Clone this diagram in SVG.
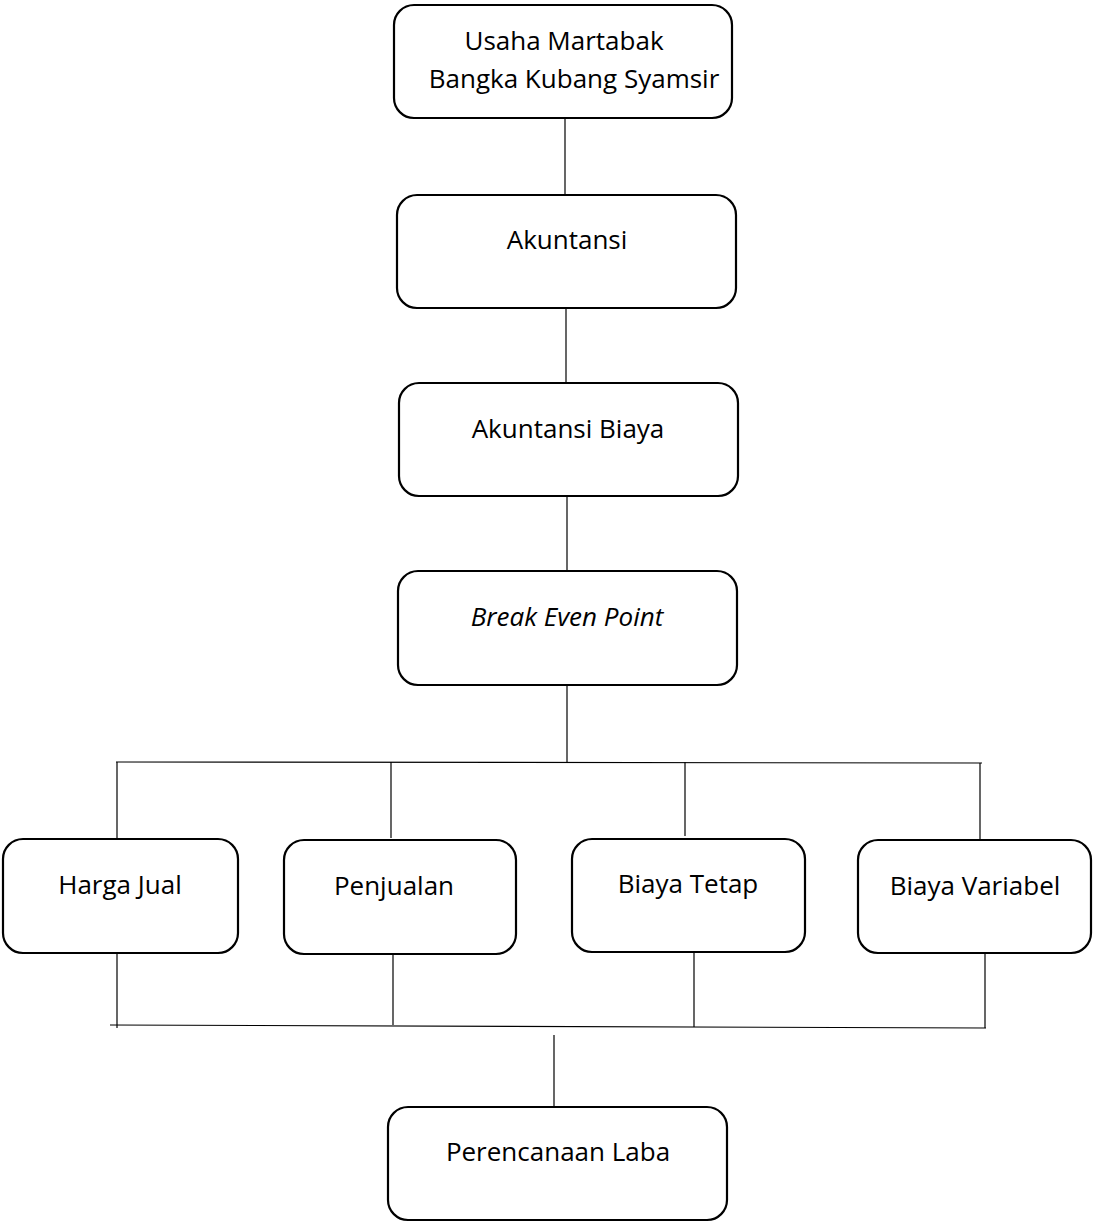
<svg xmlns="http://www.w3.org/2000/svg" width="1093" height="1222" viewBox="0 0 1093 1222">
<style>
.box{fill:#fff;stroke:#000;stroke-width:2.2}
.t{font-family:"Open Sans",Lato,"Liberation Sans",sans-serif;font-size:26px;fill:#000;text-anchor:middle}
.c line{stroke:#000;stroke-width:1.2}
</style>
<rect width="1093" height="1222" fill="#fff"/>
<g class="c" id="connectors">
<line x1="565" y1="119" x2="565" y2="195"/>
<line x1="566" y1="308" x2="566" y2="383"/>
<line x1="567" y1="496" x2="567" y2="571"/>
<line x1="567" y1="685" x2="567" y2="763"/>
<line x1="116" y1="762" x2="982" y2="763"/>
<line x1="117" y1="762" x2="117" y2="838"/>
<line x1="391" y1="762" x2="391" y2="838"/>
<line x1="685" y1="762" x2="685" y2="836"/>
<line x1="980" y1="763" x2="980" y2="839"/>
<line x1="117" y1="953" x2="117" y2="1028"/>
<line x1="393" y1="948" x2="393" y2="1025"/>
<line x1="694" y1="952" x2="694" y2="1027"/>
<line x1="985" y1="954" x2="985" y2="1028"/>
<line x1="110" y1="1025" x2="986" y2="1028"/>
<line x1="554" y1="1035" x2="554" y2="1107"/>
</g>
<g id="n1"><rect class="box" x="394" y="5" width="338" height="113" rx="20"/><text class="t" x="564" y="50">Usaha Martabak</text><text class="t" x="574" y="88">Bangka Kubang Syamsir</text></g>
<g id="n2"><rect class="box" x="397" y="195" width="339" height="113" rx="20"/><text class="t" x="567" y="249">Akuntansi</text></g>
<g id="n3"><rect class="box" x="399" y="383" width="339" height="113" rx="20"/><text class="t" x="568" y="438">Akuntansi Biaya</text></g>
<g id="n4"><rect class="box" x="398" y="571" width="339" height="114" rx="20"/><text class="t" x="567" y="626" font-style="italic">Break Even Point</text></g>
<g id="n5"><rect class="box" x="3" y="839" width="235" height="114" rx="20"/><text class="t" x="120" y="894">Harga Jual</text></g>
<g id="n6"><rect class="box" x="284" y="840" width="232" height="114" rx="20"/><text class="t" x="394" y="895">Penjualan</text></g>
<g id="n7"><rect class="box" x="572" y="839" width="233" height="113" rx="20"/><text class="t" x="688" y="893">Biaya Tetap</text></g>
<g id="n8"><rect class="box" x="858" y="840" width="233" height="113" rx="20"/><text class="t" x="975" y="895">Biaya Variabel</text></g>
<g id="n9"><rect class="box" x="388" y="1107" width="339" height="113" rx="20"/><text class="t" x="558" y="1161">Perencanaan Laba</text></g>
</svg>
